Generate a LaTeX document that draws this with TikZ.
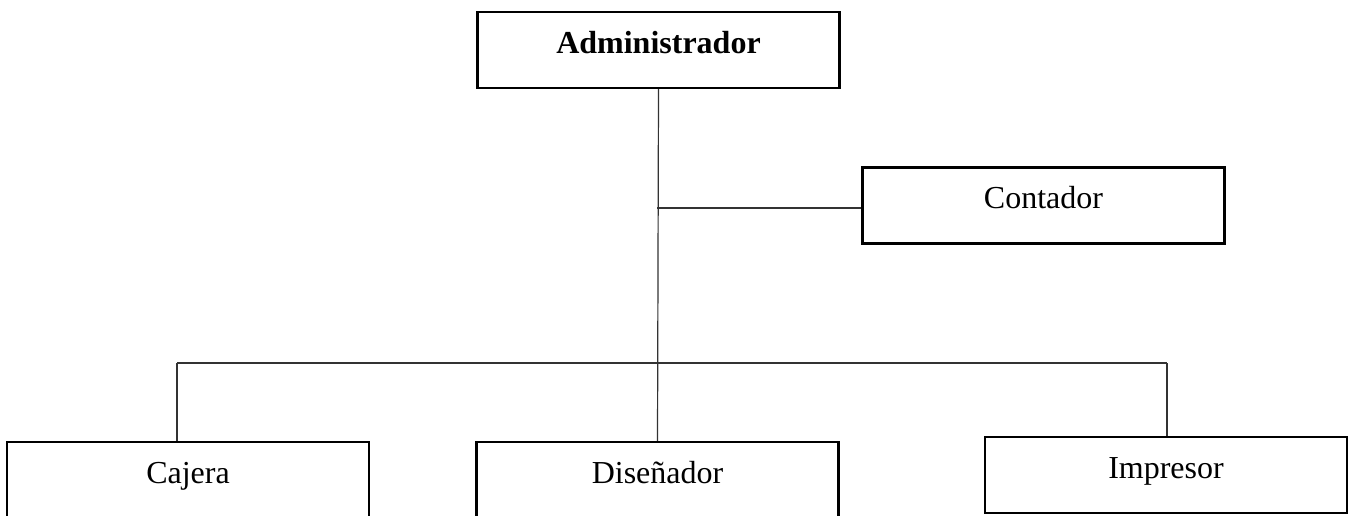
\documentclass[tikz,border=0pt]{standalone}
\usepackage{fontspec}
\setmainfont{Liberation Serif}
\begin{document}
\begin{tikzpicture}[x=1pt,y=-1pt,
  box/.style={draw=black, line width=2.4pt, inner sep=0pt, minimum width=362pt,
              text height=41pt, text depth=35pt, font=\fontsize{32}{38}\selectfont},
  conn/.style={line width=1.2pt, draw=black!80}]
\clip (0,0) rectangle (1354,515);
\fill[white] (0,0) rectangle (1354,515);
\node[box, font=\bfseries\fontsize{32}{38}\selectfont] (admin) at (658.5,50) {Administrador};
\node[box] (cont) at (1043.5,205.5) {Contador};
\node[box] (caj) at (188,480) {Cajera};
\node[box] (dis) at (657.5,480) {Diseñador};
\node[box] (imp) at (1166,475) {Impresor};
\coordinate (j1) at (657,208);
\coordinate (bl) at (177,363);
\coordinate (br) at (1167,363);
\draw[conn] (admin.south) -- (dis.north);
\draw[conn] (j1) -- (j1 -| cont.west);
\draw[conn] (bl) -- (br);
\draw[conn] (bl) -- (bl |- caj.north);
\draw[conn] (br) -- (br |- imp.north);
\end{tikzpicture}
\end{document}
